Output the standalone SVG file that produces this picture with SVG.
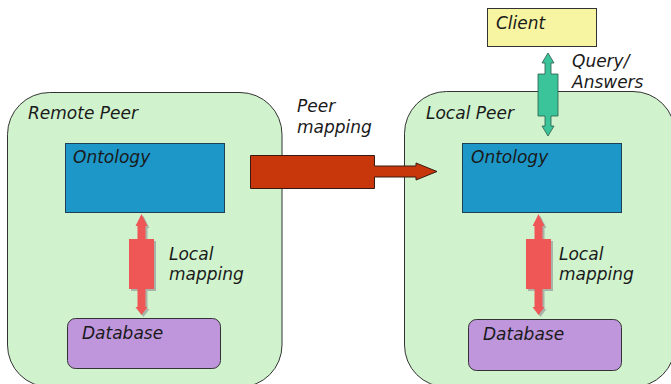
<svg xmlns="http://www.w3.org/2000/svg" width="671" height="384" viewBox="0 0 671 384">
<style>
text{font-family:"DejaVu Sans",Verdana,sans-serif;font-style:italic;font-size:17px;fill:#1a1a1a}
.peer{fill:#d0f3cd;stroke:#333;stroke-width:1}
.onto{fill:#1d97c8;stroke:#1f3f55;stroke-width:1}
.db{fill:#bf95dc;stroke:#333;stroke-width:1}
.client{fill:#f7f4a2;stroke:#333;stroke-width:1}
.lm{fill:#ef5656}
.shadow{fill:#999;opacity:0.7}
</style>
<rect width="671" height="384" fill="#fff"/>
<g id="remote-peer">
<rect class="peer" x="7.5" y="92.5" width="274.5" height="294.5" rx="42"/>
<text x="28" y="119">Remote Peer</text>
</g>
<g id="local-peer">
<rect class="peer" x="404.5" y="91.5" width="270.5" height="295.5" rx="42"/>
<text x="426" y="119">Local Peer</text>
</g>
<g id="client">
<rect class="client" x="487.5" y="8.5" width="109" height="38"/>
<text x="496" y="29">Client</text>
</g>
<g id="remote-ontology">
<rect class="onto" x="65.5" y="143.5" width="159" height="69"/>
<text x="73" y="163">Ontology</text>
</g>
<g id="local-ontology">
<rect class="onto" x="462.5" y="143.5" width="159" height="69"/>
<text x="471" y="163">Ontology</text>
</g>
<g id="remote-database">
<rect class="db" x="67.5" y="318.5" width="153" height="50" rx="8"/>
<text x="82" y="339">Database</text>
</g>
<g id="local-database">
<rect class="db" x="468.5" y="319.5" width="153" height="51" rx="8"/>
<text x="483" y="340">Database</text>
</g>
<g id="connectors">
<defs>
<path id="lmap" d="M0,0 L6,12 L4,12 L4,25 L12.5,25 L12.5,75 L4,75 L4,93 L6,93 L0,101 L-6,93 L-4,93 L-4,75 L-12.5,75 L-12.5,25 L-4,25 L-4,12 L-6,12 Z"/>
</defs>
<g transform="translate(141.5,214)">
<use href="#lmap" class="shadow" transform="translate(2,2)"/>
<use href="#lmap" class="lm"/>
</g>
<g transform="translate(538.5,214)">
<use href="#lmap" class="shadow" transform="translate(2,2)"/>
<use href="#lmap" class="lm"/>
</g>
<path d="M548,53 L554,63 L551,63 L551,74 L558,74 L558,116 L551,116 L551,126 L554,126 L548,136 L542,126 L545,126 L545,116 L538,116 L538,74 L545,74 L545,63 L542,63 Z" fill="#3bc49a" stroke="#2a5a4a" stroke-width="0.8"/>
<path d="M250.5,155.5 L374.5,155.5 L374.5,166 L416,166 L416,163 L437,171.5 L416,180 L416,177 L374.5,177 L374.5,188.5 L250.5,188.5 Z" fill="#c8360c" stroke="#3a1a10" stroke-width="1"/>
</g>
<text x="169" y="260">Local</text>
<text x="169" y="280">mapping</text>
<text x="559" y="260">Local</text>
<text x="559" y="280">mapping</text>
<text x="297" y="112">Peer</text>
<text x="297" y="133">mapping</text>
<text x="572" y="67">Query/</text>
<text x="572" y="88">Answers</text>
</svg>
